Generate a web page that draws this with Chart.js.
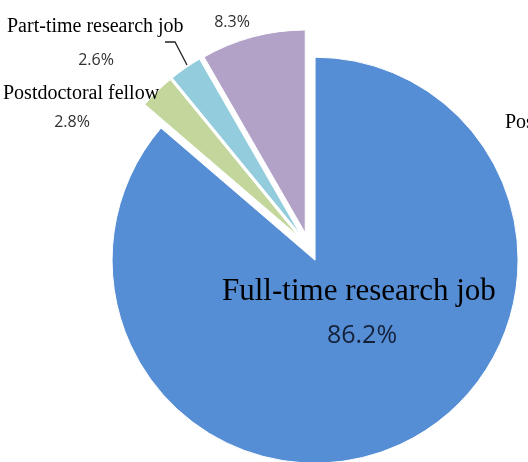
<!DOCTYPE html>
<html>
<head>
<meta charset="utf-8">
<script src="https://cdn.jsdelivr.net/npm/chart.js@4.4.1/dist/chart.umd.min.js"></script>
<style>
  html, body { margin: 0; padding: 0; width: 528px; height: 462px; overflow: hidden; background: #fff; }
  #wrap { position: absolute; left: 0; top: 0; width: 618px; height: 494px; }
</style>
</head>
<body>
<div id="wrap"><canvas id="pie" width="618" height="494"></canvas></div>
<script>
// slices, clockwise from 12 o'clock
const categories = ["Full-time research job", "Postdoctoral fellow", "Part-time research job", "Postgraduate study"];
const shares = [86.2, 2.8, 2.6, 8.3];
const sliceColors = ["#558ed5", "#c3d69b", "#93cddd", "#b3a2c7"];

// label layout: [x, baseline, size, align] for the name, [x, baseline, size] for the percentage
const nameSpots = [[222, 300, 31, "left"], [3, 99, 20, "left"], [7, 32, 20, "left"], [505, 128, 20, "left"]];
const pctSpots = [[362, 343, 25], [72, 127, 16], [96, 65, 16], [232, 27, 16]];
const pctColors = ["#16213a", "#303030", "#303030", "#303030"];
const leader = [[165, 42], [175, 42], [187, 65]];

const pieRadius = 203;
const explode = 58;

// Chart.js grows exploded arcs outward and trims their angle;
// undo both so every slice keeps the same radius and its full sweep
const evenRadius = {
  id: "evenRadius",
  afterDatasetsUpdate(chart) {
    chart.getDatasetMeta(0).data.forEach(arc => {
      const push = (arc.options.offset || 0) / 4;
      const fix = 1 - Math.sin(Math.min(Math.PI, arc.circumference));
      const grow = push * fix;
      arc.outerRadius = pieRadius - grow;
      const widen = grow / (2 * Math.PI * pieRadius);
      arc.startAngle -= widen;
      arc.endAngle += widen;
    });
  }
};

const sliceLabels = {
  id: "sliceLabels",
  afterDraw(chart) {
    const ctx = chart.ctx;
    ctx.save();
    ctx.textBaseline = "alphabetic";
    categories.forEach((name, i) => {
      const [nx, ny, ns, na] = nameSpots[i];
      ctx.fillStyle = "#000";
      ctx.textAlign = na;
      ctx.font = ns + "px 'Liberation Serif'";
      ctx.fillText(name, nx, ny);

      const [px, py, ps] = pctSpots[i];
      ctx.fillStyle = pctColors[i];
      ctx.textAlign = "center";
      ctx.font = ps + "px 'Open Sans'";
      ctx.fillText(shares[i].toFixed(1) + "%", px, py);
    });
    ctx.strokeStyle = "#222";
    ctx.lineWidth = 1.3;
    ctx.beginPath();
    leader.forEach(([x, y], k) => k ? ctx.lineTo(x, y) : ctx.moveTo(x, y));
    ctx.stroke();
    ctx.restore();
  }
};

new Chart(document.getElementById("pie"), {
  type: "pie",
  data: {
    labels: categories,
    datasets: [{
      data: shares,
      backgroundColor: sliceColors,
      borderColor: "#fff",
      borderWidth: 1,
      offset: explode,
      radius: pieRadius
    }]
  },
  options: {
    responsive: false,
    animation: false,
    layout: { padding: 0 },
    plugins: {
      legend: { display: false },
      tooltip: { enabled: false }
    }
  },
  plugins: [evenRadius, sliceLabels]
});
</script>
</body>
</html>
